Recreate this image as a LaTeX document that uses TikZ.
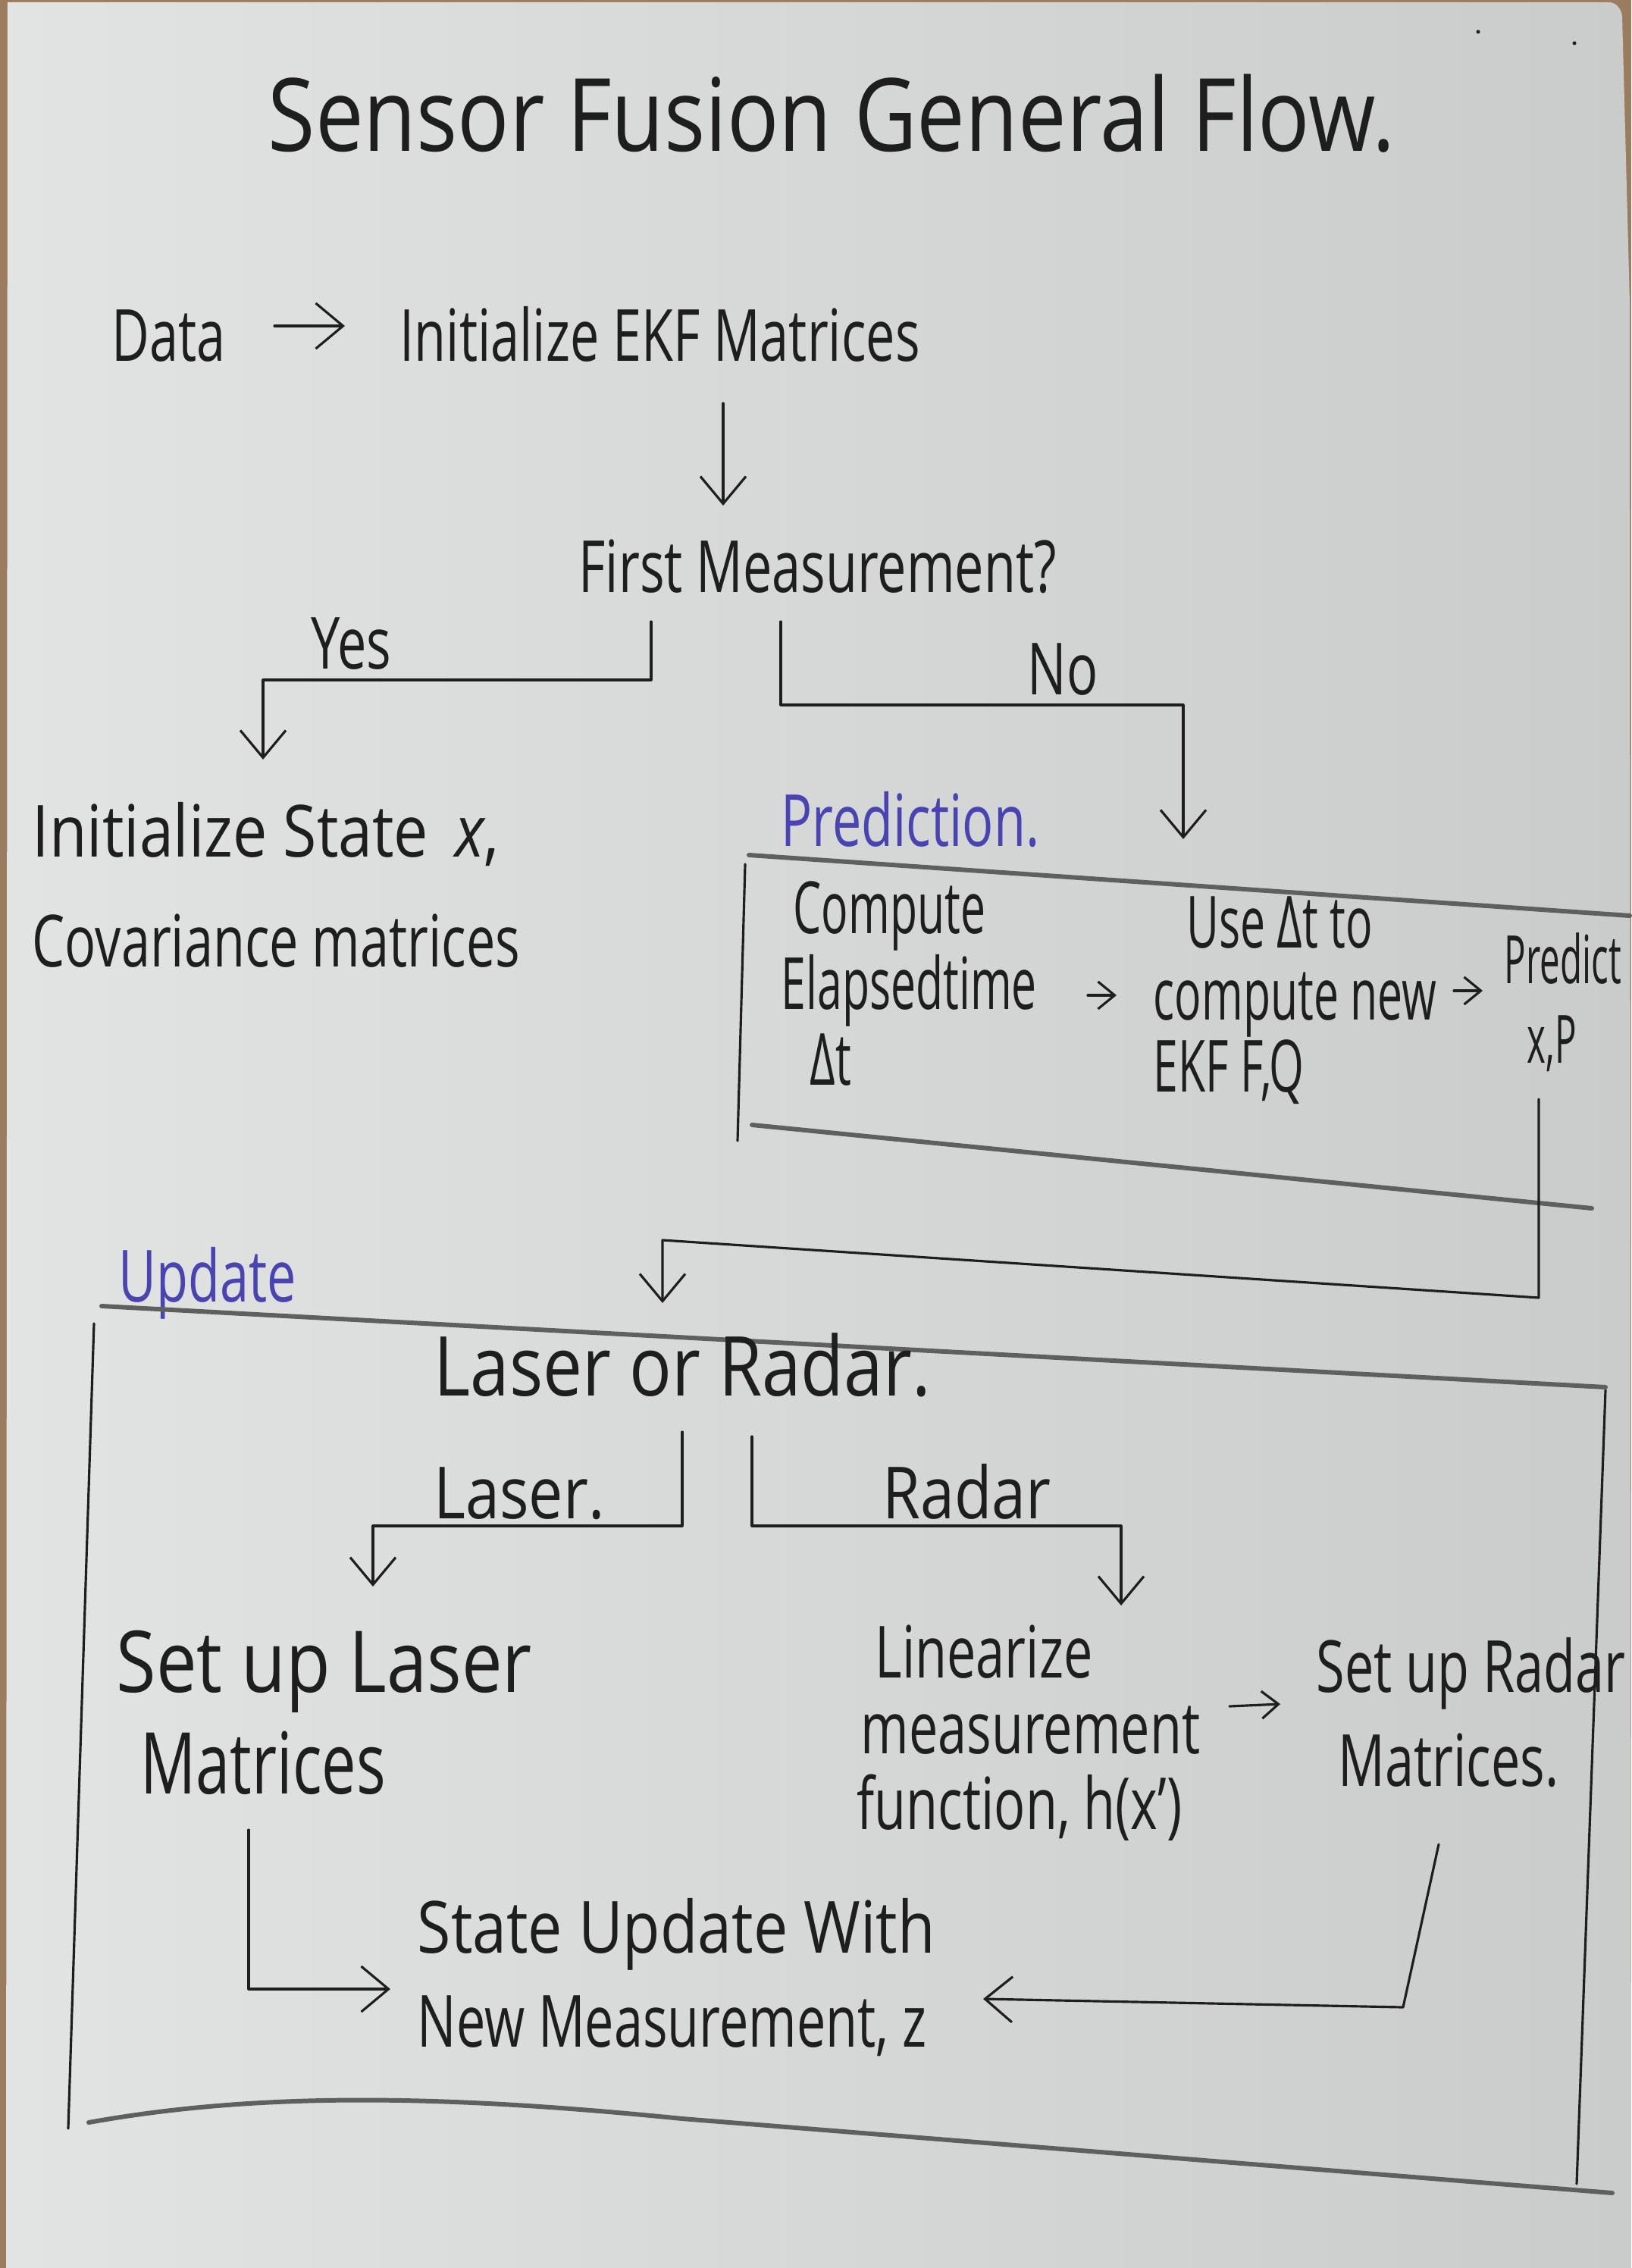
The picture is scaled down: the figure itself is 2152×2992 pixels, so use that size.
\documentclass[tikz,border=0pt]{standalone}
\usepackage{fontspec}
\setmainfont{Open Sans}[FakeStretch=0.72]
\newfontfamily\narrowfont{Open Sans}[FakeStretch=0.62]
\newfontfamily\condfont{Open Sans}[FakeStretch=0.54]
\newfontfamily\widefont{Open Sans}[FakeStretch=0.85]
\usetikzlibrary{arrows.meta,calc}

\definecolor{paperlight}{HTML}{E2E4E3}
\definecolor{paperdark}{HTML}{C9CCCA}
\definecolor{desk}{HTML}{9C7C5E}
\definecolor{ink}{HTML}{1E1E1E}
\definecolor{pencil}{HTML}{5E605F}
\definecolor{blueink}{HTML}{4A44B2}

% left-aligned stack of lines; the baseline is that of the first line
\newcommand\linestack[2]{\vtop{\baselineskip=#1\lineskiplimit=-\maxdimen\lineskip=0pt
  \halign{##\hfil\cr#2\crcr}}}

\tikzset{
  txt/.style={inner sep=0pt, anchor=base west, text=ink,
              font=\fontsize{27}{32}\selectfont},
  narrowtxt/.style={txt, font=\narrowfont\fontsize{27}{32}\selectfont},
  bigtxt/.style={txt, font=\widefont\fontsize{31}{36}\selectfont},
  headline/.style={txt, font=\widefont\fontsize{38}{46}\selectfont},
  section/.style={txt, text=blueink},
  pen/.style={draw=ink, line width=0.9pt, line cap=round, line join=round},
  arr/.style={pen, -{Straight Barb[length=3.6mm,width=6mm,line width=0.9pt]}},
  smallarr/.style={pen, -{Straight Barb[length=2.2mm,width=3.6mm,line width=0.9pt]}},
  pencil/.style={draw=pencil, line width=1.7pt, line cap=round},
}

\begin{document}
\begin{tikzpicture}[x=0.01cm, y=-0.01cm]
\useasboundingbox (0,0) rectangle (2152,2992);

% sheet of paper on the desk
\fill[desk] (0,0) rectangle (2152,2992);
\shade[left color=paperlight, right color=paperdark]
  (10,3) -- (2122,3) to[out=0,in=95] (2140,22) -- (2150,400) -- (2152,2992) -- (8,2992) -- cycle;
\fill[ink] (1950,42) circle (2.5);
\fill[ink] (2077,57) circle (2.5);

% title
\node[headline] (title) at (353,200) {Sensor Fusion General Flow.};

% start
\node[txt] (data) at (147,477) {Data};
\node[txt] (init) at (527,477) {Initialize EKF Matrices};
\draw[arr] ($(data.base west)+(215,-47)$) -- ($(init.base west)+(-72,-47)$);

\node[txt] (fm) at (763,782) {First Measurement?};
\draw[arr] ($(init.base west)+(427,55)$) -- ($(fm.base west)+(191,-115)$);

% first measurement branches
\node[txt] (yes) at (410,883) {Yes};
\node[txt] (no) at (1355,916) {No};

\node[txt] (ist) at (42,1130)
  {\linestack{1.45cm}{{\widefont Initialize State\hspace{0.35cm}\textit{x},}\cr Covariance matrices}};
\draw[arr] ($(fm.base west)+(96,38)$) -- ++(0,77) -| ($(ist.base west)+(305,-128)$);

\node[section] (pred) at (1030,1116) {Prediction.};
\draw[arr] ($(fm.base west)+(267,38)$) -- ++(0,110) -| ($(pred.base west)+(531,-9)$);

% prediction block
\draw[pencil] (988,1128) -- (2150,1208);
\draw[pen] (983,1140) -- (973,1505);
\draw[pencil] (992,1484) -- (2100,1594);

\node[narrowtxt] (cmp) at (1030,1231)
  {\linestack{1.0cm}{\hspace*{0.16cm}Compute\cr Elapsedtime\cr \hspace*{0.38cm}Δt}};
\node[narrowtxt] (use) at (1521,1250)
  {\linestack{0.95cm}{\hspace*{0.44cm}Use Δt to\cr compute new\cr EKF F,Q}};
\node[txt, font=\condfont\fontsize{25}{30}\selectfont] (pdt) at (1984,1297)
  {\linestack{1.05cm}{Predict\cr \hspace*{0.3cm}x,P}};
\draw[smallarr] ($(cmp.base west)+(405,82)$) -- ($(use.base west)+(-48,63)$);
\draw[smallarr] ($(use.base west)+(397,57)$) -- ($(pdt.base west)+(-28,10)$);

% update block
\node[section] (upd) at (156,1717) {Update};
\draw[pencil] (134,1723) -- (2118,1830);
\draw[pen] (2118,1834) -- (2080,2881);
\draw[pen] (124,1746) -- (90,2808);
\draw[pencil] (117,2800) .. controls (350,2758) and (600,2765) .. (900,2795) -- (2127,2893);

\node[bigtxt] (lor) at (572,1841) {Laser or Radar.};
\draw[arr] ($(pdt.base west)+(46,153)$) -- ++(0,262)
  -- ($(lor.base west)+(302,-205)$) -- ($(lor.base west)+(302,-122)$);

\node[txt, font=\widefont\fontsize{27}{32}\selectfont] (laserlbl) at (572,2003) {Laser.};
\node[txt, font=\widefont\fontsize{27}{32}\selectfont] (radarlbl) at (1164,2003) {Radar};

\node[txt, font=\fontsize{32}{38}\selectfont] (lsm) at (153,2232)
  {\linestack{1.34cm}{{\widefont Set up Laser}\cr \hspace*{0.32cm}Matrices}};
\node[txt] (lin) at (1130,2213)
  {\linestack{1.0cm}{\hspace*{0.24cm}Linearize\cr \hspace*{0.05cm}measurement\cr function, h(x')}};
\node[txt] (rsm) at (1736,2232)
  {\linestack{1.24cm}{Set up Radar\cr \hspace*{0.29cm}Matrices.}};

\draw[arr] ($(lor.base west)+(328,48)$) -- ++(0,124) -| ($(lsm.base west)+(339,-139)$);
\draw[arr] ($(lor.base west)+(420,54)$) -- ++(0,118) -| ($(lin.base west)+(349,-95)$);
\draw[smallarr] ($(lin.base west)+(492,38)$) -- ($(rsm.base west)+(-47,16)$);

\node[txt] (su) at (550,2576)
  {\linestack{1.24cm}{{\widefont State Update With}\cr New Measurement, z}};

\draw[arr] ($(lsm.base west)+(175,182)$) |- ($(su.base west)+(-35,48)$);
\draw[arr] ($(rsm.base west)+(162,201)$) -- ($(rsm.base west)+(115,416)$)
  -- ($(su.base west)+(747,61)$);
\end{tikzpicture}
\end{document}
